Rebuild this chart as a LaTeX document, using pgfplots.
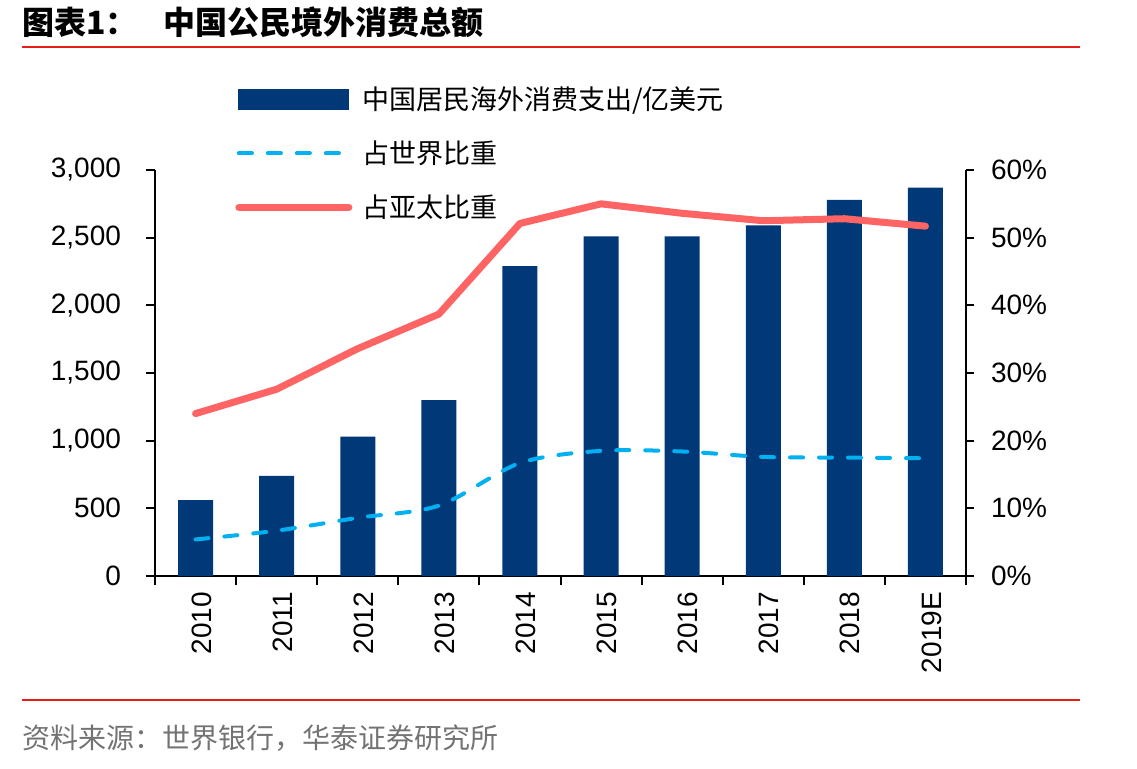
\documentclass[border=0pt]{standalone}
\usepackage{pgfplots}
\pgfplotsset{compat=1.18}
\usepackage{fontspec}
\setmainfont{Liberation Sans}
\newfontfamily\cjk{Noto Sans CJK SC}
\definecolor{navy}{RGB}{0,56,120}
\definecolor{hred}{RGB}{228,30,20}
\definecolor{salmon}{RGB}{255,100,100}
\definecolor{skyblue}{RGB}{0,176,240}
\begin{document}
\begin{tikzpicture}
\useasboundingbox (0,0) rectangle (568.5pt,384pt);
\node[anchor=west, inner sep=0pt, font=\cjk\bfseries\fontsize{16}{18}\selectfont] at (11pt,373pt) {图表1：};
\node[anchor=west, inner sep=0pt, font=\cjk\bfseries\fontsize{16}{18}\selectfont] at (81.5pt,373pt) {中国公民境外消费总额};
\draw[hred, line width=1.2pt] (11pt,360.5pt) -- (540pt,360.5pt);
\draw[hred, line width=1.2pt] (11pt,34pt) -- (540pt,34pt);
\node[anchor=west, inner sep=0pt, text=black!55, font=\cjk\fontsize{14}{16}\selectfont] at (11pt,15pt) {资料来源：世界银行，华泰证券研究所};

\begin{axis}[
  at={(77.5pt,96pt)}, anchor=south west, scale only axis,
  width=405.5pt, height=203pt,
  xmin=-0.5, xmax=9.5, ymin=0, ymax=3000,
  axis x line*=bottom, axis y line*=left,
  axis line style={-, black, line width=1pt},
  xtick={-0.5,0.5,...,9.5},
  xticklabels={2010,2011,2012,2013,2014,2015,2016,2017,2018,2019E},
  x tick label as interval,
  tick align=outside, major tick length=4.5pt,
  tick style={black, line width=1pt},
  ytick={0,500,...,3000},
  yticklabel style={font=\fontsize{14}{16}\selectfont, xshift=-9pt,
    /pgf/number format/.cd, 1000 sep={,}, fixed, assume math mode=true},
  xticklabel style={font=\fontsize{14}{16}\selectfont, rotate=90, anchor=east, yshift=-3pt,
    /pgf/number format/assume math mode=true},
  ybar, bar width=17.5pt,
]
\addplot[fill=navy, draw=none] coordinates {
  (0,560) (1,740) (2,1030) (3,1300) (4,2290) (5,2510) (6,2510) (7,2590) (8,2780) (9,2870)};
\end{axis}

\begin{axis}[
  at={(77.5pt,96pt)}, anchor=south west, scale only axis,
  width=405.5pt, height=203pt,
  xmin=-0.5, xmax=9.5, ymin=0, ymax=60,
  hide x axis, axis y line*=right,
  axis line style={-, black, line width=1pt},
  ytick={0,10,...,60},
  yticklabel={\pgfmathprintnumber{\tick}\%},
  tick align=outside, major tick length=4pt,
  tick style={black, line width=1pt},
  yticklabel style={font=\fontsize{14}{16}\selectfont, xshift=5pt, /pgf/number format/assume math mode=true},
  legend image code/.code={\draw[#1] (0pt,0pt) -- (55pt,0pt);},
  legend cell align=left,
  legend style={at={(0.0986,1.207)}, anchor=north west, draw=none, fill=none,
    inner sep=0pt, row sep=14.2pt, column sep=5pt,
    font=\cjk\fontsize{13.5}{15}\selectfont,
    nodes={inner sep=0pt}},
]
\addlegendimage{legend image code/.code={\fill[navy] (0pt,-5pt) rectangle (55pt,5pt);}}
\addlegendentry{中国居民海外消费支出/亿美元}
\addplot[skyblue, line width=2pt, dash pattern=on 6.5pt off 8pt, line cap=round, smooth, tension=0.5] coordinates {
  (0,5.4) (1,6.7) (2,8.6) (3,10.4) (4,16.7) (5,18.5) (6,18.4) (7,17.6) (8,17.5) (9,17.4)};
\addlegendentry{占世界比重}
\addplot[salmon, line width=3.5pt, line cap=round, line join=round] coordinates {
  (0,24.0) (1,27.6) (2,33.6) (3,38.7) (4,52.1) (5,55.0) (6,53.6) (7,52.5) (8,52.8) (9,51.7)};
\addlegendentry{占亚太比重}
\end{axis}
\end{tikzpicture}
\end{document}
